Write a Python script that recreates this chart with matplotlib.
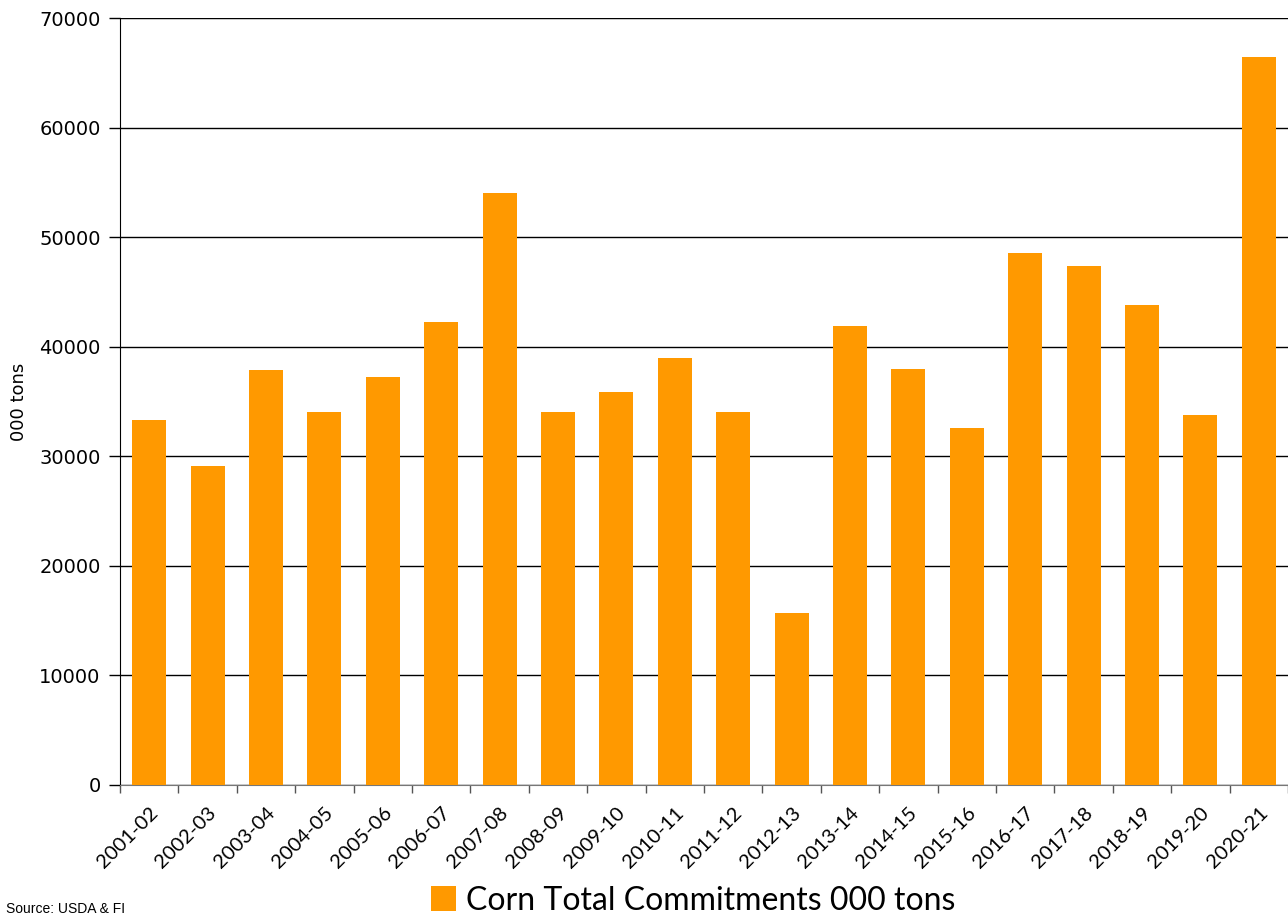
import matplotlib
matplotlib.use("Agg")
import matplotlib.pyplot as plt
from matplotlib.patches import Patch

seasons = ["2001-02", "2002-03", "2003-04", "2004-05", "2005-06", "2006-07",
           "2007-08", "2008-09", "2009-10", "2010-11", "2011-12", "2012-13",
           "2013-14", "2014-15", "2015-16", "2016-17", "2017-18", "2018-19",
           "2019-20", "2020-21"]
commitments = [33300, 29100, 37900, 34000, 37250, 42300, 54000, 34050, 35850, 38950,
               34050, 15700, 41900, 38000, 32550, 48550, 47350, 43800, 33750, 66450]

bar_color = "#FF9900"

fig = plt.figure(figsize=(12.88, 9.17), dpi=100)
ax = fig.add_axes([120 / 1288, 132 / 917, 1168 / 1288, 767 / 917])

x = list(range(len(seasons)))
ax.bar(x, commitments, width=0.58, color=bar_color, zorder=3)

ax.set_xlim(-0.5, len(seasons) - 0.5)
ax.set_ylim(0, 70000)
ax.set_yticks(range(0, 70001, 10000))
ax.yaxis.grid(True, color="black", linewidth=1.0, zorder=0)
ax.tick_params(axis="y", labelsize=14, length=8, width=1, direction="out", pad=6)

# tick marks sit between categories, labels under the bars
ax.set_xticks([i - 0.5 for i in x] + [len(seasons) - 0.5])
ax.set_xticklabels([])
ax.tick_params(axis="x", length=6, width=1, color="#555555")
ax.set_xticks(x, minor=True)
ax.set_xticklabels(seasons, minor=True, rotation=45, ha="right",
                   rotation_mode="anchor", fontsize=14.5, family="Lato")
ax.tick_params(axis="x", which="minor", length=0, pad=14)

for side in ["top", "right"]:
    ax.spines[side].set_visible(False)
ax.spines["left"].set_color("black")
ax.spines["bottom"].set_color("#777777")
ax.axhline(70000, color="#777777", linewidth=1.5, zorder=1)

ax.set_ylabel("000 tons", fontsize=13, labelpad=8)

fig.legend(handles=[Patch(facecolor=bar_color, label="Corn Total Commitments 000 tons")],
           loc="lower center", bbox_to_anchor=(0.538, -0.03), frameon=False,
           prop={"family": "Lato", "size": 23}, handlelength=0.8, handleheight=0.8,
           handletextpad=0.3)

fig.text(0.005, 0.004, "Source: USDA & FI", fontsize=10, family="Liberation Sans")

fig.savefig("out.png", dpi=100)
